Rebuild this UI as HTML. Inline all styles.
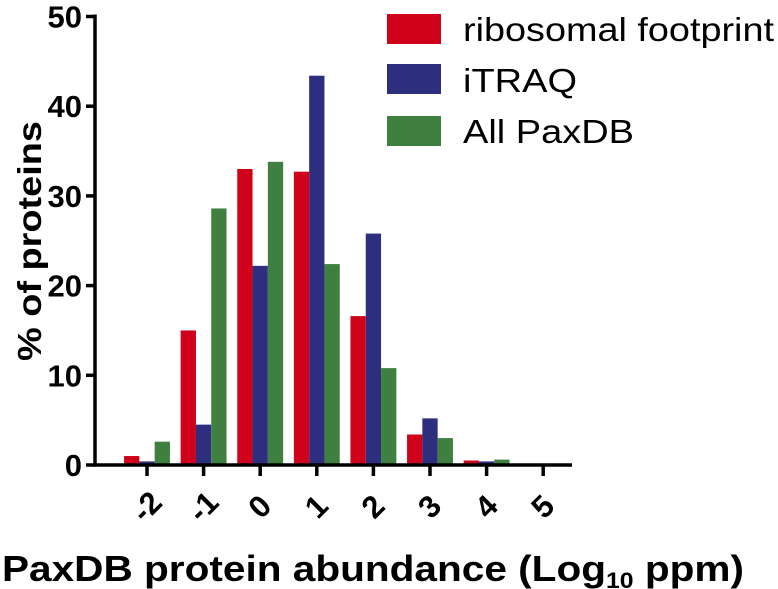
<!DOCTYPE html>
<html><head><meta charset="utf-8"><style>
body{margin:0;background:#fff;}
svg{display:block;font-family:"Liberation Sans",Arial,sans-serif;font-weight:bold;}
</style></head><body>
<svg id="chart" width="778" height="589" viewBox="0 0 778 589">
<g id="bars"></g>
<g id="axes"></g>
<text x="0" y="0" transform="translate(41,241) rotate(-90)" text-anchor="middle" font-size="33" textLength="240" lengthAdjust="spacingAndGlyphs">% of proteins</text>
<text x="2" y="581" font-size="36" textLength="742" lengthAdjust="spacingAndGlyphs">PaxDB protein abundance (Log<tspan font-size="22" dy="7">10</tspan><tspan dy="-7"> ppm)</tspan></text>
<g>
<rect x="387" y="14" width="54" height="30" fill="#d0021b"/>
<text x="463" y="41" font-size="33" font-weight="normal" textLength="311" lengthAdjust="spacingAndGlyphs">ribosomal footprint</text>
<rect x="387" y="64" width="54" height="30" fill="#2e2e7e"/>
<text x="463" y="92" font-size="33" font-weight="normal" textLength="114" lengthAdjust="spacingAndGlyphs">iTRAQ</text>
<rect x="387" y="116" width="54" height="30" fill="#3f8040"/>
<text x="463" y="143" font-size="33" font-weight="normal" textLength="171" lengthAdjust="spacingAndGlyphs">All PaxDB</text>
</g>
</svg>
<script>
const categories = ["-2","-1","0","1","2","3","4","5"];
const ribosomal = [1.0, 15.0, 33.0, 32.7, 16.6, 3.4, 0.5, 0];
const itraq = [0.4, 4.5, 22.2, 43.4, 25.8, 5.2, 0.4, 0];
const paxdb = [2.6, 28.6, 33.8, 22.4, 10.8, 3.0, 0.6, 0];
const yTicks = [0,10,20,30,40,50];
const NS="http://www.w3.org/2000/svg";
const y0=465, pxPerUnit=8.97, x0=147, step=56.6, bw=15.3;
function yScale(v){return y0-v*pxPerUnit;}
function xScale(i){return x0+i*step;}
const bars=document.getElementById('bars'), axes=document.getElementById('axes');
const series=[["ribosomal",ribosomal,"#d0021b"],["itraq",itraq,"#2e2e7e"],["paxdb",paxdb,"#3f8040"]];
series.forEach((s,si)=>{
  s[1].forEach((v,i)=>{
    if(v<=0) return;
    const r=document.createElementNS(NS,'rect');
    r.setAttribute('x',xScale(i)-1.5*bw+si*bw);
    r.setAttribute('y',yScale(v));
    r.setAttribute('width',bw);
    r.setAttribute('height',y0-yScale(v));
    r.setAttribute('fill',s[2]);
    
    
    bars.appendChild(r);
  });
});
function line(x1,y1,x2,y2,name){
  const l=document.createElementNS(NS,'line');
  l.setAttribute('x1',x1);l.setAttribute('y1',y1);l.setAttribute('x2',x2);l.setAttribute('y2',y2);
  l.setAttribute('stroke','#000');l.setAttribute('stroke-width','3.5');
  
  
  axes.appendChild(l);
}
line(95,yScale(50)-2,95,y0+1.5,'y-axis-line');
line(93,y0,572,y0,'x-axis-line');
yTicks.forEach(t=>{
  line(86,yScale(t),95,yScale(t),'y-tick');
  const tx=document.createElementNS(NS,'text');
  tx.setAttribute('x',82);tx.setAttribute('y',yScale(t)+11);
  tx.setAttribute('text-anchor','end');tx.setAttribute('font-size','31');
  tx.textContent=t;
  
  
  axes.appendChild(tx);
});
categories.forEach((c,i)=>{
  const x=xScale(i);
  line(x,y0,x,y0+11,'x-tick');
  const tx=document.createElementNS(NS,'text');
  tx.setAttribute('transform','translate('+(x)+',507) rotate(-45)');
  tx.setAttribute('text-anchor','middle');tx.setAttribute('font-size','31');
  tx.setAttribute('dy','10');
  tx.textContent=c;
  
  
  axes.appendChild(tx);
});
</script>
</body></html>
